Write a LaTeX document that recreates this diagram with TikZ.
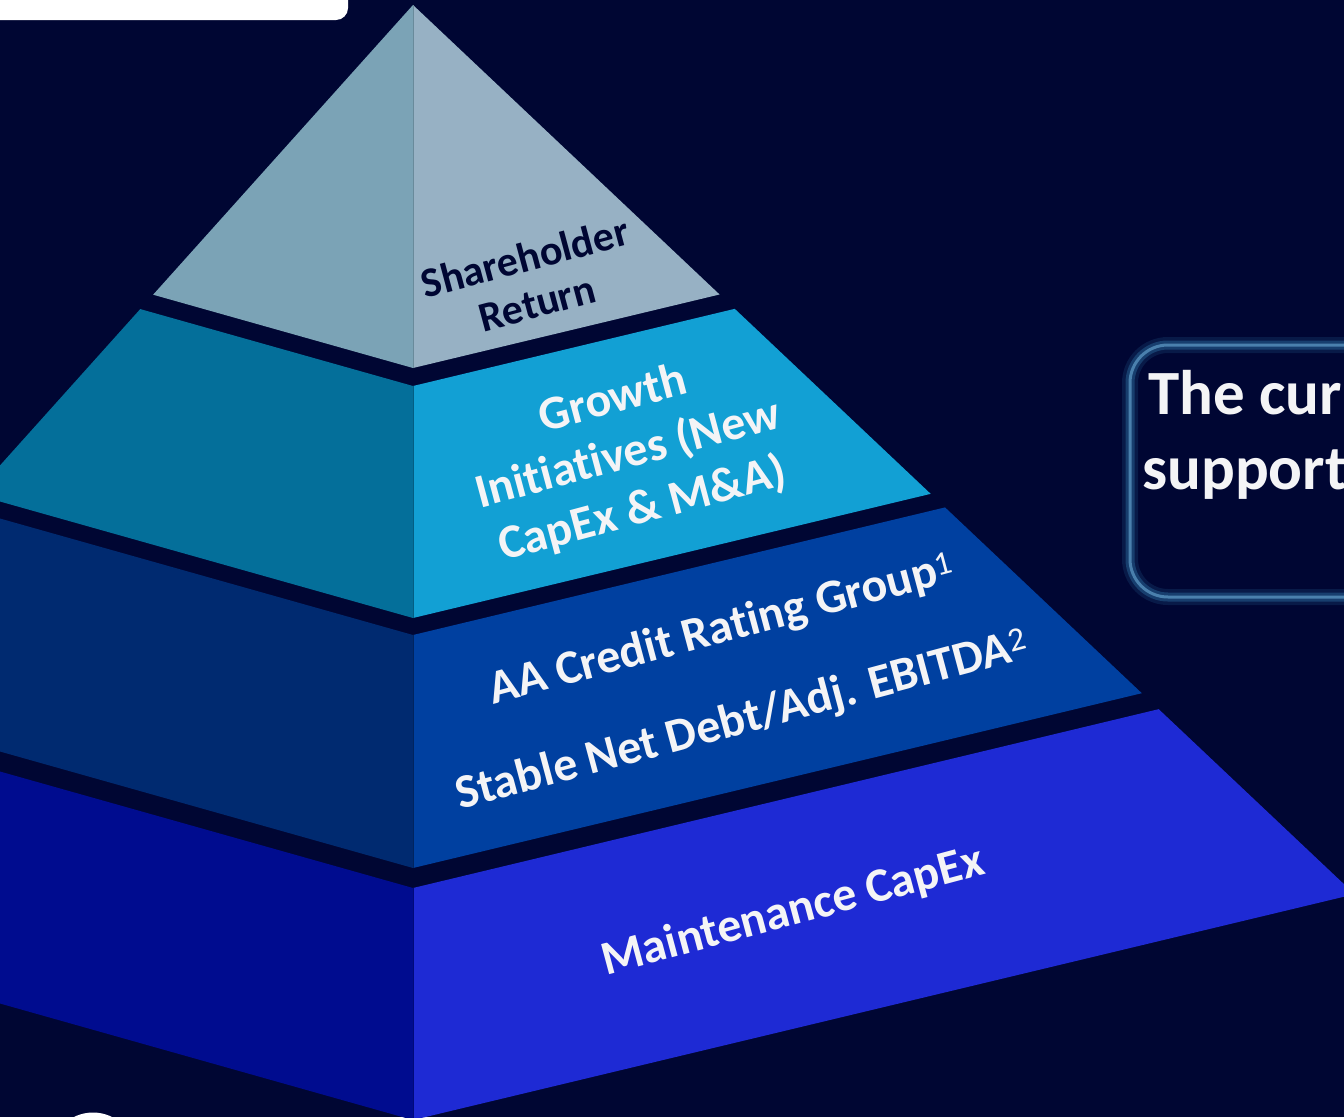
\documentclass[tikz,border=0pt]{standalone}
\usepackage{fontspec}
\setmainfont{Carlito}[Ligatures=NoCommon]
\definecolor{bgnavy}{HTML}{000633}
\definecolor{laL}{HTML}{7BA3B6}
\definecolor{laR}{HTML}{97B1C4}
\definecolor{lbL}{HTML}{046F9A}
\definecolor{lbR}{HTML}{12A0D4}
\definecolor{lcL}{HTML}{002A70}
\definecolor{lcR}{HTML}{0040A0}
\definecolor{ldL}{HTML}{000C8F}
\definecolor{ldR}{HTML}{1E2AD4}
\definecolor{txtwhite}{HTML}{F4F4F6}
\definecolor{glowblue}{HTML}{2A6A9E}
\newcommand\pyrlayer[4]{%
  \pgfmathsetmacro\pyLyt{(#1+1.265)/1.253}
  \pgfmathsetmacro\pyLxt{413-0.897*(\pyLyt-5)}
  \pgfmathsetmacro\pyLyb{(#2+1.265)/1.253}
  \pgfmathsetmacro\pyLxb{413-0.897*(\pyLyb-5)}
  \pgfmathsetmacro\pyRyt{(#1+1.271)/1.254}
  \pgfmathsetmacro\pyRxt{413+1.059*(\pyRyt-5)}
  \pgfmathsetmacro\pyRyb{(#2+1.271)/1.254}
  \pgfmathsetmacro\pyRxb{413+1.059*(\pyRyb-5)}
  \fill[#3] (413,#1) -- (\pyLxt,\pyLyt) -- (\pyLxb,\pyLyb) -- (413,#2) -- cycle;
  \fill[#4] (413,#1) -- (\pyRxt,\pyRyt) -- (\pyRxb,\pyRyb) -- (413,#2) -- cycle;
  \draw[#3!85!black, line width=0.8pt] (413,#1) -- (413,#2);
}
\begin{document}
\begin{tikzpicture}[x=1pt,y=-1pt,
  facetext/.style={font=\bfseries\fontsize{48}{57}\selectfont, text=txtwhite, align=center, rotate=15, inner sep=0pt},
  boxtext/.style={font=\bfseries\fontsize{63}{75}\selectfont, text=txtwhite, inner sep=0pt}]
\useasboundingbox (0,0) rectangle (1344,1117);
\clip (0,0) rectangle (1344,1117);
\fill[bgnavy] (0,0) rectangle (1344,1117);
% top-left white bar
\fill[white, rounded corners=12pt] (-30,-30) rectangle (348,20);
% pyramid layers
\pyrlayer{5}{368}{laL}{laR}
\pyrlayer{386}{618}{lbL}{lbR}
\pyrlayer{635}{868}{lcL}{lcR}
\pyrlayer{888}{1120}{ldL}{ldR}
% texts on the right faces
\node[facetext, text=bgnavy, font=\bfseries\fontsize{42}{47}\selectfont] (share) at (531,280) {Shareholder\\Return};
\node[facetext] (growth) at (628,455) {Growth\\Initiatives (New\\CapEx \& M\&A)};
\node[facetext] (credit) at (722,630) {AA Credit Rating Group\textsuperscript{\mdseries 1}};
\node[facetext] (debt) at (742,721) {Stable Net Debt/Adj. EBITDA\textsuperscript{\mdseries 2}};
\node[facetext] (maint) at (793,912) {Maintenance CapEx};
% glowing box on the right
\draw[glowblue, opacity=0.2, line width=16pt, rounded corners=38pt] (1130,345) rectangle (1600,597);
\draw[glowblue, opacity=0.45, line width=9pt, rounded corners=38pt] (1130,345) rectangle (1600,597);
\draw[glowblue!85!white, line width=3pt, rounded corners=38pt] (1130,345) rectangle (1600,597);
\node[boxtext, anchor=base west] (boxa) at (1148,414) {The cur};
\node[boxtext, anchor=base west] (boxb) at (1142,489) {support};
% white arc at bottom left
\draw[white, line width=9pt] (93,1155) circle (38);
\end{tikzpicture}
\end{document}
